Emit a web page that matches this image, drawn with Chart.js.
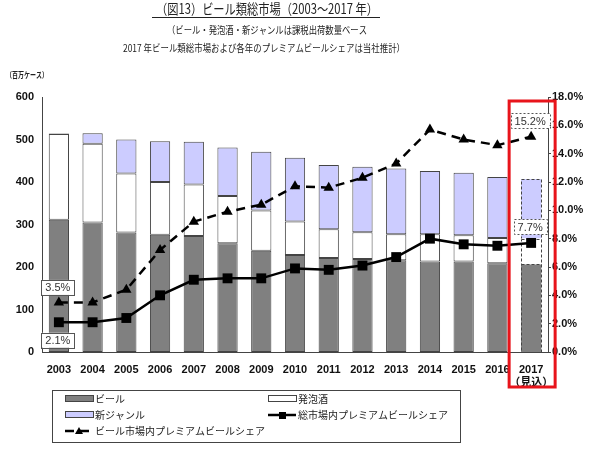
<!DOCTYPE html>
<html>
<head>
<meta charset="utf-8">
<script src="https://cdn.jsdelivr.net/npm/chart.js@4.4.1/dist/chart.umd.min.js"></script>
<style>
body{margin:0;background:#fff}
#wrap{width:590px;height:450px}
</style>
</head>
<body>
<div id="wrap"><canvas id="myChart" width="590" height="450"></canvas></div>
<script>
var years = ['2003','2004','2005','2006','2007','2008','2009','2010','2011','2012','2013','2014','2015','2016',['2017','（見込）']];
var beer = [311,305,281,276,273,256,238,228,221,219,216,213,213,209,206];
var happoshu = [202,185,139,124,121,111,95,79,68,63,61,64,62,59,61];
var newGenre = [1,25,80,96,101,114,138,150,151,154,155,149,147,144,140];
var shareTotal = [2.1,2.1,2.4,4.0,5.1,5.2,5.2,5.9,5.8,6.1,6.7,8.0,7.6,7.5,7.7];
var shareBeer = [3.5,3.5,4.4,7.2,9.2,9.9,10.4,11.7,11.6,12.3,13.3,15.7,15.0,14.6,15.2];

var FONT = '"Liberation Sans", "Noto Sans CJK JP", sans-serif';
var JP = '"Noto Sans CJK JP", sans-serif';
var last = years.length - 1;

function bw(){ var a = []; for(var i=0;i<years.length;i++){ a.push(i==last ? 0 : 1) } return a }

function labelBox(ctx, text, cx, cy, dashed){
    ctx.save();
    ctx.font = '11px ' + FONT;
    var w = ctx.measureText(text).width + 8, h = 15;
    ctx.fillStyle = '#fff';
    ctx.fillRect(cx - w/2, cy - h/2, w, h);
    ctx.strokeStyle = '#555';
    ctx.lineWidth = 1;
    if(dashed) ctx.setLineDash([2,2]);
    ctx.strokeRect(Math.round(cx - w/2)+0.5, Math.round(cy - h/2)+0.5, Math.round(w), h);
    ctx.setLineDash([]);
    ctx.fillStyle = '#333';
    ctx.textAlign = 'center';
    ctx.textBaseline = 'middle';
    ctx.fillText(text, cx, cy + 1);
    ctx.restore();
}

var extras = {
    id: 'extras',
    beforeDraw: function(chart){
        var ctx = chart.ctx;
        ctx.save();
        ctx.fillStyle = '#fff';
        ctx.fillRect(0, 0, chart.width, chart.height);
        ctx.fillStyle = '#222';
        ctx.textAlign = 'center';
        ctx.textBaseline = 'middle';
        ctx.font = '14px ' + JP;
        ctx.fillText('（図13）ビール類総市場（2003～2017 年）', 267, 9, 222);
        ctx.fillRect(152, 17, 228, 1);
        ctx.font = '10px ' + JP;
        ctx.fillText('（ビール・発泡酒・新ジャンルは課税出荷数量ベース', 267, 30, 200);
        ctx.fillText('2017 年ビール類総市場および各年のプレミアムビールシェアは当社推計）', 264, 48, 282);
        ctx.textAlign = 'left';
        ctx.font = 'bold 8px ' + JP;
        ctx.fillText('（百万ケース）', 6, 75, 42);
        ctx.restore();
    },
    afterDatasetDraw: function(chart, args){
        var meta = args.meta;
        if(meta.type !== 'bar') return;
        var el = meta.data[last];
        var p = el.getProps(['x','y','base','width'], true);
        var ctx = chart.ctx;
        ctx.save();
        ctx.strokeStyle = '#444';
        ctx.lineWidth = 1;
        ctx.setLineDash([3,2]);
        ctx.strokeRect(Math.round(p.x - p.width/2)+0.5, Math.round(p.y)+0.5, Math.round(p.width), Math.round(p.base - p.y));
        ctx.restore();
    },
    afterDraw: function(chart){
        var ctx = chart.ctx;
        var xs = chart.scales.x, y1 = chart.scales.y1, a = chart.chartArea;
        // value boxes
        labelBox(ctx, shareBeer[0].toFixed(1)+'%', xs.getPixelForValue(0) - 1, y1.getPixelForValue(shareBeer[0]) - 15, false);
        labelBox(ctx, shareTotal[0].toFixed(1)+'%', xs.getPixelForValue(0) - 1, y1.getPixelForValue(shareTotal[0]) + 18, false);
        labelBox(ctx, shareBeer[last].toFixed(1)+'%', xs.getPixelForValue(last) - 1, y1.getPixelForValue(shareBeer[last]) - 16, true);
        labelBox(ctx, shareTotal[last].toFixed(1)+'%', xs.getPixelForValue(last) - 1, y1.getPixelForValue(shareTotal[last]) - 16, true);
        // red frame round 2017
        var cx = xs.getPixelForValue(last);
        ctx.save();
        ctx.strokeStyle = '#e8141b';
        ctx.lineWidth = 3;
        ctx.strokeRect(cx - 22, a.top + 4, 46, a.bottom - a.top + 31);
        ctx.restore();
        // legend
        ctx.save();
        ctx.strokeStyle = '#444';
        ctx.lineWidth = 1;
        ctx.strokeRect(52.5, 390.5, 408, 52);
        ctx.font = '10px ' + JP;
        ctx.textBaseline = 'middle';
        ctx.textAlign = 'left';
        var ds = chart.data.datasets;
        var spots = [[65,399],[268,399],[65,415],[268,415],[65,431]];
        for(var i=0;i<ds.length;i++){
            var x = spots[i][0], y = spots[i][1], d = ds[i];
            if(d.type === 'line'){
                ctx.strokeStyle = d.borderColor;
                ctx.lineWidth = d.borderWidth;
                ctx.setLineDash(d.borderDash || []);
                ctx.beginPath(); ctx.moveTo(x, y); ctx.lineTo(x + 28, y); ctx.stroke();
                ctx.setLineDash([]);
                ctx.fillStyle = '#000';
                if(d.pointStyle === 'rect'){ ctx.fillRect(x + 11, y - 3, 7, 7) }
                else { ctx.beginPath(); ctx.moveTo(x + 14, y - 4); ctx.lineTo(x + 18, y + 3); ctx.lineTo(x + 10, y + 3); ctx.closePath(); ctx.fill() }
            } else {
                ctx.fillStyle = d.backgroundColor;
                ctx.fillRect(x, y - 3, 28, 6);
                ctx.strokeStyle = '#444';
                ctx.lineWidth = 1;
                ctx.strokeRect(x + 0.5, y - 3.5, 28, 6);
            }
            ctx.fillStyle = '#222';
            ctx.fillText(d.label, x + 30, y);
        }
        ctx.restore();
    }
};

var ctx = document.getElementById('myChart').getContext('2d');
var chart = new Chart(ctx, {
    type: 'bar',
    data: {
        labels: years,
        datasets: [
            {
                label: 'ビール',
                data: beer,
                backgroundColor: 'rgb(128,128,128)',
                borderColor: '#444',
                borderWidth: bw(),
                borderSkipped: false,
                yAxisID: 'y',
                order: 2
            },
            {
                label: '発泡酒',
                data: happoshu,
                backgroundColor: '#fff',
                borderColor: '#444',
                borderWidth: bw(),
                borderSkipped: false,
                yAxisID: 'y',
                order: 2
            },
            {
                label: '新ジャンル',
                data: newGenre,
                backgroundColor: 'rgb(204,204,255)',
                borderColor: '#444',
                borderWidth: bw(),
                borderSkipped: false,
                yAxisID: 'y',
                order: 2
            },
            {
                type: 'line',
                label: '総市場内プレミアムビールシェア',
                data: shareTotal,
                borderColor: '#000',
                backgroundColor: '#000',
                borderWidth: 2.5,
                pointStyle: 'rect',
                pointRadius: 7,
                pointBorderWidth: 0,
                tension: 0,
                yAxisID: 'y1',
                order: 0
            },
            {
                type: 'line',
                label: 'ビール市場内プレミアムビールシェア',
                data: shareBeer,
                borderColor: '#000',
                backgroundColor: '#000',
                borderWidth: 2.5,
                borderDash: [9,6],
                pointStyle: 'triangle',
                pointRadius: 6,
                pointBorderWidth: 0,
                tension: 0,
                yAxisID: 'y1',
                order: 1
            }
        ]
    },
    options: {
        responsive: false,
        animation: false,
        devicePixelRatio: 1,
        layout: { padding: { top: 97, bottom: 60, left: 0, right: 0 } },
        datasets: { bar: { barPercentage: 0.6, categoryPercentage: 1 } },
        plugins: {
            legend: { display: false },
            tooltip: { enabled: false }
        },
        scales: {
            x: {
                stacked: true,
                grid: { display: false },
                border: { display: true, color: '#444', width: 1 },
                ticks: { color: '#111', font: { family: FONT, size: 11, weight: 'bold' }, padding: 3, maxRotation: 0, autoSkip: false },
                afterFit: function(s){ s.height = 38 }
            },
            y: {
                stacked: true,
                position: 'left',
                min: 0, max: 600,
                grid: { display: false },
                border: { display: true, color: '#444', width: 1 },
                ticks: { stepSize: 100, color: '#111', font: { family: FONT, size: 11, weight: 'bold' }, padding: 0 },
                afterFit: function(s){ s.width = 42 }
            },
            y1: {
                position: 'right',
                min: 0, max: 18,
                grid: { display: true, drawOnChartArea: false, drawTicks: true, tickLength: 3, color: '#444' },
                border: { display: true, color: '#444', width: 1 },
                ticks: { stepSize: 2, color: '#111', font: { family: FONT, size: 11, weight: 'bold' }, padding: 1,
                    callback: function(v){ return v.toFixed(1) + '%' } },
                afterFit: function(s){ s.width = 42 }
            }
        }
    },
    plugins: [extras]
});
</script>
</body>
</html>
